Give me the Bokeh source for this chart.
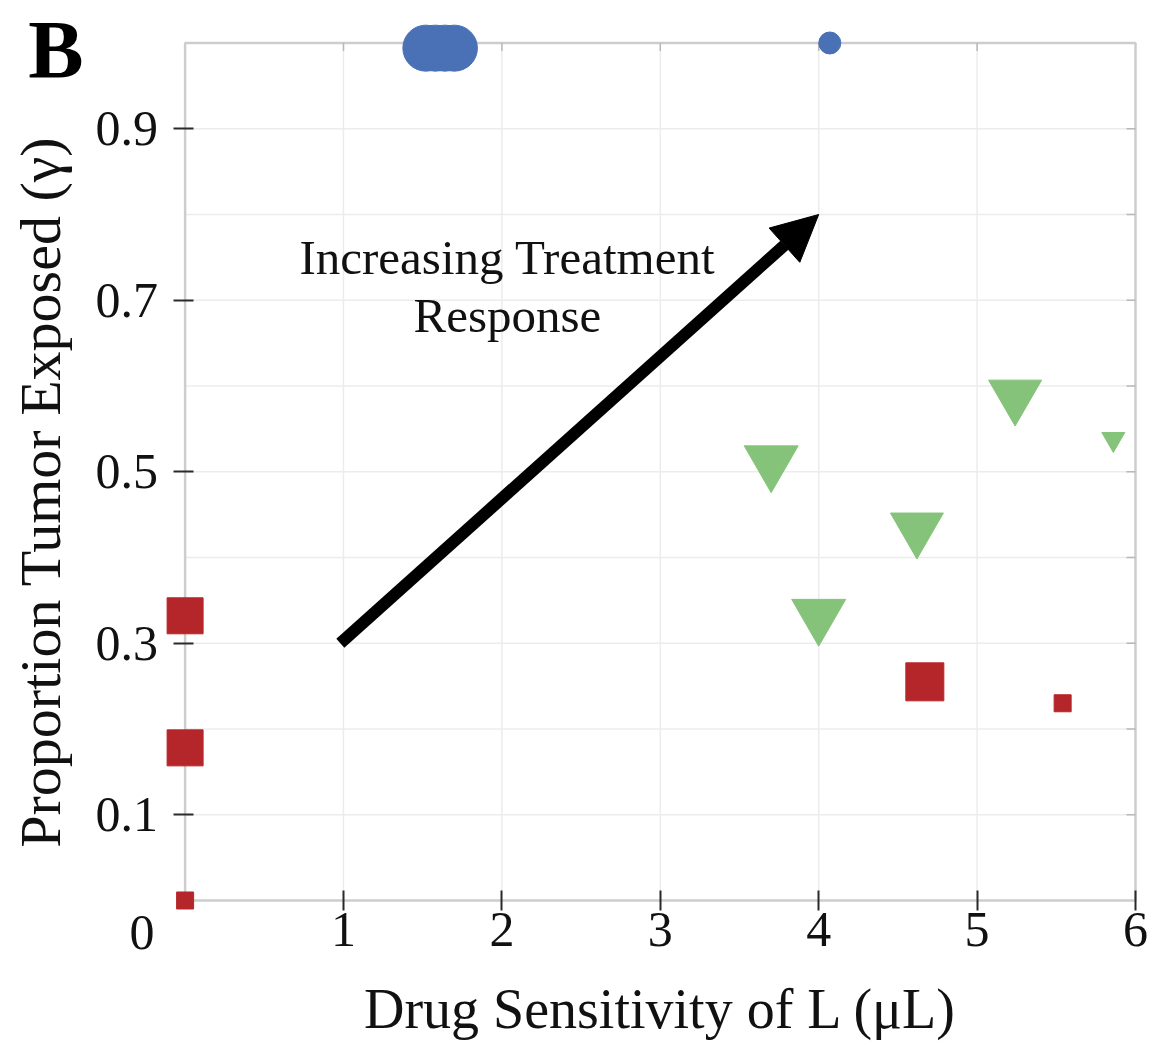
from bokeh.plotting import figure
from bokeh.models import Range1d, LinearAxis, FixedTicker, Label, Arrow, NormalHead
from bokeh.core.properties import value
from bokeh.embed import file_html
from bokeh.resources import INLINE

# ---------------- data ----------------
X_MIN, X_MAX = 0, 6
Y_MIN, Y_MAX = 0, 1
x_ticks = [1, 2, 3, 4, 5, 6]
y_ticks = [0.1, 0.3, 0.5, 0.7, 0.9]
x_grid = [1, 2, 3, 4, 5]
y_grid = [0.1, 0.2, 0.3, 0.4, 0.5, 0.6, 0.7, 0.8, 0.9]

circle_x = [1.52, 1.58, 1.64, 1.70, 4.07]
circle_y = [0.994, 0.994, 0.994, 0.994, 1.0]
circle_size = [46, 46, 46, 46, 22]

square_x = [0.0, 0.0, 0.0, 4.67, 5.54]
square_y = [0.332, 0.178, 0.0, 0.255, 0.230]
square_size = [36, 36, 17, 38, 17]

tri_x = [3.70, 4.00, 4.62, 5.24, 5.86]
tri_y = [0.512, 0.333, 0.434, 0.589, 0.538]
tri_size = [54, 54, 53, 53, 23]

arrow_start = (0.98, 0.30)
arrow_end = (4.0, 0.80)
note_text = "Increasing Treatment\nResponse"
note_pos = (2.035, 0.716)

x_label = "Drug Sensitivity of L (μL)"
y_label = "Proportion Tumor Exposed (γ)"
panel_label = "B"
origin_label = "0"

FONT = "Liberation Serif"
BLUE = "#4a70b5"
RED = "#b5262a"
GREEN = "#86c37a"

W, H = 1158, 1042

# the frame fills the whole canvas; axes are pinned at x=0 / y=0
p = figure(width=W, height=H,
           x_range=Range1d(-1.1654, 6.1452), y_range=Range1d(-0.16560, 1.04956),
           x_axis_location=None, y_axis_location=None,
           output_backend="svg", toolbar_location=None, min_border=0)
p.title.visible = False
p.outline_line_color = None
p.grid.grid_line_color = None
p.grid.visible = False
p.background_fill_color = "white"
p.border_fill_color = "white"

# grid lines inside the box
p.segment(x0=x_grid, y0=[Y_MIN] * len(x_grid), x1=x_grid, y1=[Y_MAX] * len(x_grid),
          line_color="#ececec", line_width=1.5, level="underlay")
p.segment(x0=[X_MIN] * len(y_grid), y0=y_grid, x1=[X_MAX] * len(y_grid), y1=y_grid,
          line_color="#ececec", line_width=1.5, level="underlay")
# frame box
p.quad(left=[X_MIN], right=[X_MAX], bottom=[Y_MIN], top=[Y_MAX],
       fill_color=None, line_color="#cdcdcd", line_width=2.5, level="underlay")
# small inward ticks on the right and top edges of the box
TICK_DX = 0.057
TICK_DY = 0.0093
p.segment(x0=[X_MAX - TICK_DX] * len(y_grid), y0=y_grid, x1=[X_MAX] * len(y_grid), y1=y_grid,
          line_color="#b8b8b8", line_width=1.5, level="underlay")
p.segment(x0=x_grid, y0=[Y_MAX - TICK_DY] * len(x_grid), x1=x_grid, y1=[Y_MAX] * len(x_grid),
          line_color="#b8b8b8", line_width=1.5, level="underlay")

# axes
xa = LinearAxis(fixed_location=Y_MIN, bounds=(X_MIN, X_MAX), ticker=FixedTicker(ticks=x_ticks))
xa.axis_line_color = None
xa.major_tick_in = 10
xa.major_tick_out = 10
xa.major_tick_line_width = 2
xa.major_tick_line_color = "#2a2a2a"
xa.minor_tick_line_color = None
xa.major_label_text_font = FONT
xa.major_label_text_font_size = "50px"
xa.major_label_text_color = "#111111"
xa.major_label_standoff = 3
xa.axis_label = x_label
xa.axis_label_text_font = FONT
xa.axis_label_text_font_size = "56px"
xa.axis_label_text_font_style = "normal"
xa.axis_label_text_color = "#111111"
xa.axis_label_standoff = 28
p.add_layout(xa, "below")

ya = LinearAxis(fixed_location=X_MIN, bounds=(-0.048, Y_MAX), ticker=FixedTicker(ticks=y_ticks))
ya.axis_line_color = None
ya.major_tick_in = 8
ya.major_tick_out = 12
ya.major_tick_line_width = 2
ya.major_tick_line_color = "#2a2a2a"
ya.minor_tick_line_color = None
ya.major_label_text_font = FONT
ya.major_label_text_font_size = "50px"
ya.major_label_text_color = "#111111"
ya.major_label_standoff = 15
ya.axis_label = y_label
ya.axis_label_text_font = FONT
ya.axis_label_text_font_size = "58px"
ya.axis_label_text_font_style = "normal"
ya.axis_label_text_color = "#111111"
ya.axis_label_standoff = 20
p.add_layout(ya, "left")

# markers
p.scatter(circle_x, circle_y, size=circle_size, marker="circle",
          fill_color=BLUE, line_color=BLUE)
p.scatter(square_x, square_y, size=square_size, marker="square",
          fill_color=RED, line_color=RED)
p.scatter(tri_x, tri_y, size=tri_size, marker="inverted_triangle",
          fill_color=GREEN, line_color=GREEN)

# arrow + note
p.add_layout(Arrow(end=NormalHead(size=46, fill_color="black", line_color="black", line_width=1),
                   x_start=arrow_start[0], y_start=arrow_start[1],
                   x_end=arrow_end[0], y_end=arrow_end[1],
                   line_width=12, line_color="black"))
p.text(x=[note_pos[0]], y=[note_pos[1]], text=[note_text],
       text_font=value(FONT), text_font_size=value("49px"),
       text_align="center", text_baseline="middle", text_line_height=1.07,
       text_color="#111111")

# origin "0" and panel letter
p.add_layout(Label(x=-0.272, y=-0.037, text=origin_label, text_font=FONT, text_font_size="50px",
                   text_align="center", text_baseline="alphabetic", text_color="#111111"))
p.add_layout(Label(x=-0.99, y=0.993, text=panel_label, text_font=FONT,
                   text_font_size="83px", text_font_style="bold",
                   text_align="left", text_baseline="alphabetic", text_color="#000000"))

open("out.html", "w").write(file_html(p, INLINE))
